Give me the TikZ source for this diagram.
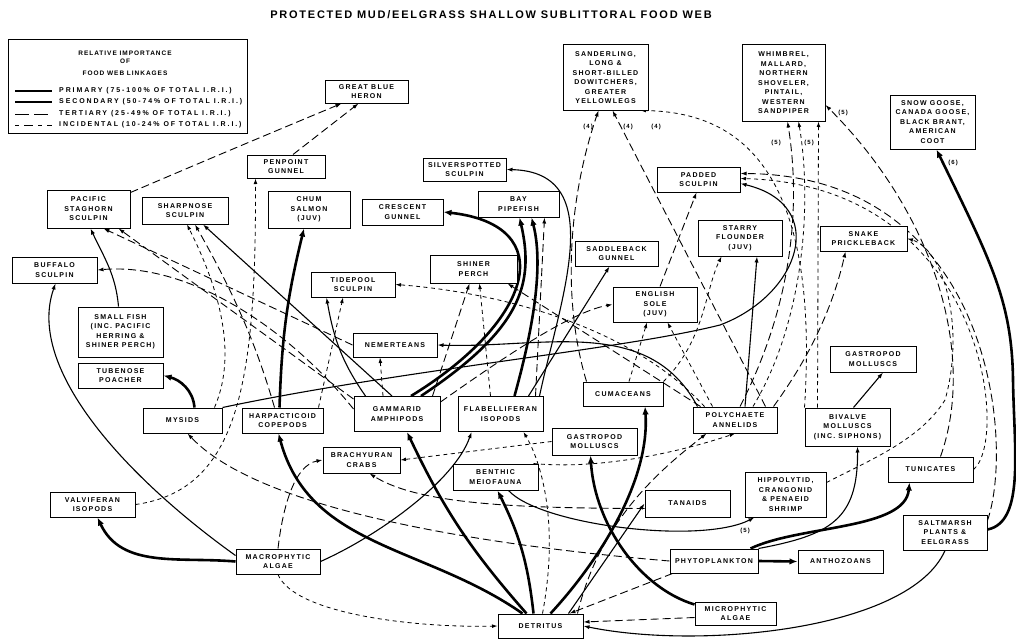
\documentclass[tikz,border=0pt]{standalone}
\usepackage{fontspec}
\setmainfont{Liberation Sans}
\newfontfamily\boxfont{Liberation Sans}[LetterSpace=18]
\newfontfamily\legfont{Liberation Sans}[LetterSpace=27]
\newfontfamily\hdfont{Liberation Sans}[LetterSpace=15]
\newfontfamily\ttlfont{Liberation Sans}[LetterSpace=16]
\usetikzlibrary{arrows.meta,calc,backgrounds}
\begin{document}
\begin{tikzpicture}[x=1pt,y=1pt,
  box/.style 2 args={draw, fill=white, line width=1pt, inner sep=1pt, align=center,
    minimum width=#1, minimum height=#2, font=\boxfont\bfseries\fontsize{7}{9.5}\selectfont},
  lbl/.style={font=\boxfont\bfseries\fontsize{6}{7}\selectfont, inner sep=0pt},
  hd/.style={font=\hdfont\bfseries\fontsize{6.5}{8}\selectfont, inner sep=0pt},
  lg/.style={font=\legfont\bfseries\fontsize{7}{8}\selectfont, inner sep=0pt, anchor=west},
  lkP/.style={line width=2.6pt, -{Latex[length=8pt,width=6.5pt]}},
  lkS/.style={line width=1.1pt, -{Latex[length=6pt,width=4.2pt]}},
  lkT/.style={line width=0.9pt, dash pattern=on 8pt off 4pt, -{Latex[length=6pt,width=4pt]}},
  lkI/.style={line width=0.8pt, dash pattern=on 4pt off 3.5pt, -{Latex[length=5.5pt,width=3.8pt]}},
]
\useasboundingbox (0,0) rectangle (1016,-642);

% title
\node[font=\ttlfont\bfseries\fontsize{11}{13}\selectfont, inner sep=0pt] (title) at (491,-15) {PROTECTED MUD/EELGRASS SHALLOW SUBLITTORAL FOOD WEB};

% legend
\node[draw, fill=white, line width=1pt, minimum width=239pt, minimum height=93pt, inner sep=0pt] (legend) at (127.5,-86.5) {};
\node[hd] (lh1) at (125,-53) {RELATIVE IMPORTANCE};
\node[hd] (lh2) at (125,-61) {OF};
\node[hd] (lh3) at (125,-73) {FOOD WEB LINKAGES};
\node[lg] (lg1) at (59,-91) {PRIMARY (75-100\% OF TOTAL I.R.I.)};
\node[lg] (lg2) at (59,-102) {SECONDARY (50-74\% OF TOTAL I.R.I.)};
\node[lg] (lg3) at (59,-114) {TERTIARY (25-49\% OF TOTAL I.R.I.)};
\node[lg] (lg4) at (59,-125) {INCIDENTAL (10-24\% OF TOTAL I.R.I.)};
\draw[line width=2.6pt] (15,-91) -- (52,-91);
\draw[line width=1.2pt] (15,-102) -- (52,-102);
\draw[line width=1pt, dash pattern=on 14pt off 5pt] (15,-114) -- (52,-114);
\draw[line width=0.9pt, dash pattern=on 4pt off 5pt on 9pt off 5pt] (15,-125) -- (52,-125);

% nodes
\node[box={83pt}{23pt}] (heron) at (366.5,-91.5) {GREAT BLUE\\HERON};
\node[box={78pt}{23pt}] (penpoint) at (286,-166.5) {PENPOINT\\GUNNEL};
\node[box={83pt}{23pt}] (silver) at (464.5,-169.5) {SILVERSPOTTED\\SCULPIN};
\node[box={83pt}{38pt}] (staghorn) at (88.5,-209) {PACIFIC\\STAGHORN\\SCULPIN};
\node[box={86pt}{27pt}] (sharpnose) at (185,-210.5) {SHARPNOSE\\SCULPIN};
\node[box={82pt}{37pt}] (chum) at (309,-209.5) {CHUM\\SALMON\\(JUV)};
\node[box={81pt}{26pt}] (crescent) at (402.5,-212) {CRESCENT\\GUNNEL};
\node[box={81pt}{26pt}] (pipefish) at (518.5,-204) {BAY\\PIPEFISH};
\node[box={85pt}{65pt}] (sanderling) at (605.5,-77.5) {SANDERLING,\\LONG \&\\SHORT-BILLED\\DOWITCHERS,\\GREATER\\YELLOWLEGS};
\node[box={83pt}{76pt}] (whimbrel) at (783.5,-83) {WHIMBREL,\\MALLARD,\\NORTHERN\\SHOVELER,\\PINTAIL,\\WESTERN\\SANDPIPER};
\node[box={85pt}{54pt}] (snowgoose) at (932.5,-122) {SNOW GOOSE,\\CANADA GOOSE,\\BLACK BRANT,\\AMERICAN\\COOT};
\node[box={83pt}{25pt}] (padded) at (698.5,-179.5) {PADDED\\SCULPIN};
\node[box={84pt}{36pt}] (starry) at (740,-238) {STARRY\\FLOUNDER\\(JUV)};
\node[box={87pt}{25pt}] (snake) at (863.5,-238.5) {SNAKE\\PRICKLEBACK};
\node[box={85pt}{26pt}] (buffalo) at (54.5,-270) {BUFFALO\\SCULPIN};
\node[box={84pt}{25pt}] (tidepool) at (353,-284.5) {TIDEPOOL\\SCULPIN};
\node[box={87pt}{28pt}] (shiner) at (473.5,-269) {SHINER\\PERCH};
\node[box={83pt}{25pt}] (saddleback) at (616.5,-253.5) {SADDLEBACK\\GUNNEL};
\node[box={84pt}{35pt}] (english) at (655,-304.5) {ENGLISH\\SOLE\\(JUV)};
\node[box={85pt}{50pt}] (smallfish) at (120.5,-332) {SMALL FISH\\(INC. PACIFIC\\HERRING \&\\SHINER PERCH)};
\node[box={84pt}{24pt}] (nemerteans) at (395,-345) {NEMERTEANS};
\node[box={85pt}{25pt}] (tubenose) at (120.5,-375.5) {TUBENOSE\\POACHER};
\node[box={86pt}{26pt}] (gastroup) at (873,-359) {GASTROPOD\\MOLLUSCS};
\node[box={79pt}{25pt}] (mysids) at (182.5,-420.5) {MYSIDS};
\node[box={81pt}{25pt}] (harpact) at (282.5,-420.5) {HARPACTICOID\\COPEPODS};
\node[box={86pt}{35pt}] (gammarid) at (397,-414) {GAMMARID\\AMPHIPODS};
\node[box={85pt}{35pt}] (flabel) at (500.5,-414) {FLABELLIFERAN\\ISOPODS};
\node[box={80pt}{24pt}] (cumaceans) at (623,-394) {CUMACEANS};
\node[box={84pt}{26pt}] (polychaete) at (735,-420) {POLYCHAETE\\ANNELIDS};
\node[box={85pt}{38pt}] (bivalve) at (847.5,-427) {BIVALVE\\MOLLUSCS\\(INC. SIPHONS)};
\node[box={77pt}{26pt}] (brachy) at (361.5,-460) {BRACHYURAN\\CRABS};
\node[box={85pt}{27pt}] (gastrolow) at (594.5,-441.5) {GASTROPOD\\MOLLUSCS};
\node[box={85pt}{26pt}] (meio) at (495.5,-477) {BENTHIC\\MEIOFAUNA};
\node[box={85pt}{27pt}] (tanaids) at (687.5,-503.5) {TANAIDS};
\node[box={81pt}{45pt}] (hippo) at (785.5,-494.5) {HIPPOLYTID,\\CRANGONID\\\& PENAEID\\SHRIMP};
\node[box={85pt}{25pt}] (tunicates) at (930.5,-469.5) {TUNICATES};
\node[box={85pt}{25pt}] (valvifer) at (92.5,-504.5) {VALVIFERAN\\ISOPODS};
\node[box={84pt}{35pt}] (saltmarsh) at (945,-532.5) {SALTMARSH\\PLANTS \&\\EELGRASS};
\node[box={84pt}{25pt}] (macro) at (278,-561.5) {MACROPHYTIC\\ALGAE};
\node[box={88pt}{24pt}] (phyto) at (714,-561) {PHYTOPLANKTON};
\node[box={85pt}{23pt}] (antho) at (840.5,-561.5) {ANTHOZOANS};
\node[box={85pt}{24pt}] (detritus) at (540.5,-626) {DETRITUS};
\node[box={81pt}{23pt}] (micro) at (735.5,-613.5) {MICROPHYTIC\\ALGAE};

\coordinate (rc) at (1013,-380);
\coordinate (mc) at (720,-325);
\coordinate (hc) at (945,-400);

% labels
\node[lbl] (l4a) at (588,-127) {(4)};
\node[lbl] (l4b) at (628,-127) {(4)};
\node[lbl] (l4c) at (656,-127) {(4)};
\node[lbl] (l5a) at (776,-143) {(5)};
\node[lbl] (l5b) at (809,-143) {(5)};
\node[lbl] (l5c) at (843,-113) {(5)};
\node[lbl] (l6) at (953,-163) {(6)};
\node[lbl] (l5d) at (745,-531) {(5)};

\begin{scope}[on background layer]
\fill[white] (0,0) rectangle (1016,-642);
% primary
\draw[lkP] (macro.west) to[out=175,in=-65] ($(valvifer.south)+(5,0)$);
\draw[lkP] ($(detritus.north west)+(25,0)$) to[out=145,in=-75] ($(harpact.south)+(-4,0)$);
\draw[lkP] ($(harpact.north)+(-3,0)$) to[bend left=6] ($(chum.south)+(-5,0)$);
\draw[lkP] ($(mysids.north)+(12,0)$) to[out=95,in=-15] (tubenose.east);
\draw[lkP] ($(gammarid.north)+(14,0)$) .. controls (535,-320) and (560,-225) .. (crescent.east);
\draw[lkP] ($(gammarid.north)+(24,0)$) .. controls (520,-330) and (535,-285) .. ($(pipefish.south)+(1,0)$);
\draw[lkP] ($(flabel.north)+(14,0)$) .. controls (530,-340) and (545,-270) .. ($(pipefish.south)+(13,0)$);
\draw[lkP] ($(detritus.north)+(-14,0)$) to[bend left=8] ($(gammarid.south)+(10,0)$);
\draw[lkP] ($(detritus.north)+(-7,0)$) to[bend right=10] ($(meio.south)+(2,0)$);
\draw[lkP] ($(detritus.north)+(10,0)$) .. controls (600,-560) and (650,-480) .. ($(cumaceans.south)+(22,0)$);
\draw[lkP] ($(micro.north west)+(0,-3)$) .. controls (640,-588) and (595,-525) .. ($(gastrolow.south)+(-4,0)$);
\draw[lkP] ($(phyto.north east)+(-8,0)$) .. controls (800,-525) and (905,-530) .. ($(tunicates.south)+(-21,0)$);
\draw[lkP] (phyto.east) -- (antho.west);
\draw[lkP] ($(saltmarsh.east)+(0,3)$) .. controls (1025,-522) and (1014,-450) .. (rc) .. controls (1012,-300) and (990,-260) .. ($(snowgoose.south)+(4,0)$);
% secondary
\draw[lkS] ($(macro.west)+(0,6)$) .. controls (130,-480) and (25,-370) .. ($(buffalo.south)+(1,0)$);
\draw[lkS] ($(smallfish.north)+(-2,0)$) to[out=95,in=-65] ($(staghorn.south)+(2,0)$);
\draw[lkS] ($(gammarid.north)+(-5,0)$) -- ($(sharpnose.south)+(18,0)$);
\draw[lkS] ($(gammarid.north west)+(12,0)$) to[out=125,in=-80] ($(tidepool.south west)+(16,0)$);
\draw[lkS] ($(flabel.north)+(28,0)$) -- ($(saddleback.south)+(-7,0)$);
\draw[lkS] ($(polychaete.north west)+(5,0)$) to[out=118,in=-2] (nemerteans.east);
\draw[lkS] (mysids.north east) .. controls (400,-370) and (620,-350) .. (mc) .. controls (800,-295) and (830,-205) .. ($(padded.east)+(0,-4)$);
\draw[lkS] ($(polychaete.north)+(10,0)$) -- ($(starry.south)+(17,0)$);
\draw[lkS] ($(flabel.north east)+(-4,0)$) .. controls (560,-300) and (610,-172) .. (silver.east);
\draw[lkS] ($(detritus.north east)+(-15,0)$) -- (tanaids.west);
\draw[lkS] ($(meio.south east)+(-30,0)$) .. controls (540,-525) and (700,-545) .. ($(hippo.south west)+(10,0)$);
\draw[lkS] (phyto.north east) .. controls (830,-535) and (858,-520) .. ($(bivalve.south)+(10,0)$);
\draw[lkS] (saltmarsh.south) .. controls (910,-630) and (700,-650) .. (detritus.east);
\draw[lkS] (macro.east) .. controls (380,-535) and (455,-480) .. ($(flabel.south west)+(14,0)$);
\draw[lkS] ($(bivalve.north)+(6,0)$) -- ($(gastroup.south)+(10,0)$);
% tertiary and incidental
\draw[lkT] ($(staghorn.north east)+(0,-3)$) .. controls (230,-150) and (290,-125) .. ($(heron.south west)+(17,0)$);
\draw[lkT] ($(penpoint.north)+(7,0)$) -- ($(heron.south)+(-8,0)$);
\draw[lkI] (valvifer.east) .. controls (240,-490) and (256,-380) .. ($(penpoint.south west)+(9,0)$);
\draw[lkT] ($(harpact.north)+(-8,0)$) .. controls (255,-340) and (232,-290) .. ($(sharpnose.south)+(10,0)$);
\draw[lkI] ($(mysids.north east)+(-8,0)$) .. controls (235,-360) and (225,-300) .. ($(sharpnose.south)+(2,0)$);
\draw[lkT] (nemerteans.west) -- ($(staghorn.south)+(15,0)$);
\draw[lkT] ($(gammarid.north west)+(0,-3)$) -- ($(staghorn.south east)+(-12,0)$);
\draw[lkT] ($(gammarid.west)+(0,5)$) .. controls (290,-330) and (190,-262) .. (buffalo.east);
\draw[lkI] ($(harpact.north east)+(-5,0)$) -- ($(tidepool.south)+(-10,0)$);
\draw[lkI] ($(gammarid.north)+(-14,0)$) -- ($(nemerteans.south)+(-15,0)$);
\draw[lkT] ($(gammarid.north east)+(-8,0)$) -- ($(shiner.south)+(-4,0)$);
\draw[lkI] ($(flabel.north)+(-10,0)$) -- ($(shiner.south)+(6,0)$);
\draw[lkT] ($(polychaete.north west)+(8,0)$) -- ($(shiner.south east)+(-10,0)$);
\draw[lkI] ($(polychaete.north west)+(12,0)$) .. controls (620,-315) and (470,-290) .. (tidepool.east);
\draw[lkT] ($(gammarid.north east)+(0,-6)$) .. controls (500,-360) and (570,-312) .. (english.west);
\draw[lkI] ($(cumaceans.north)+(6,0)$) -- ($(english.south)+(-8,0)$);
\draw[lkI] ($(polychaete.north west)+(20,0)$) -- ($(english.south east)+(-30,0)$);
\draw[lkT] ($(flabel.north east)+(-8,0)$) -- ($(pipefish.south east)+(-15,0)$);
\draw[lkT] ($(cumaceans.north west)+(4,0)$) .. controls (562,-300) and (568,-200) .. ($(sanderling.south)+(-7,0)$);
\draw[lkT] ($(polychaete.north east)+(-12,0)$) -- ($(sanderling.south)+(7,0)$);
\draw[lkI] (bivalve.north west) .. controls (820,-170) and (740,-112) .. ($(sanderling.south east)+(-8,0)$);
\draw[lkT] ($(polychaete.north)+(5,0)$) .. controls (795,-300) and (800,-200) .. ($(whimbrel.south)+(4,0)$);
\draw[lkI] ($(polychaete.north)+(18,0)$) .. controls (805,-320) and (812,-200) .. ($(whimbrel.south)+(15,0)$);
\draw[lkI] ($(bivalve.north west)+(13,0)$) -- ($(whimbrel.south east)+(-7,0)$);
\draw[lkT] ($(tunicates.north)+(10,0)$) .. controls (975,-360) and (940,-220) .. ($(whimbrel.east)+(0,-22)$);
\draw[lkT] ($(saltmarsh.north east)+(0,-6)$) .. controls (1015,-440) and (990,-175) .. ($(padded.east)+(0,6)$);
\draw[lkI] (tunicates.east) .. controls (1010,-440) and (985,-185) .. ($(padded.east)+(0,1)$);
\draw[lkI] ($(hippo.east)+(0,12)$) .. controls (870,-460) and (920,-440) .. (hc) .. controls (965,-330) and (945,-250) .. (snake.east);
\draw[lkT] ($(english.north)+(5,0)$) -- ($(padded.south)+(-2,0)$);
\draw[lkI] (cumaceans.north east) .. controls (705,-340) and (705,-290) .. ($(starry.south west)+(24,0)$);
\draw[lkT] ($(polychaete.north east)+(-4,0)$) .. controls (800,-370) and (830,-320) .. ($(snake.south)+(-18,0)$);
% bottom
\draw[lkI] (macro.south) .. controls (295,-615) and (420,-628) .. (detritus.west);
\draw[lkT] (macro.north) .. controls (283,-505) and (295,-465) .. (brachy.west);
\draw[lkT] (phyto.west) .. controls (480,-545) and (260,-510) .. ($(mysids.south east)+(-35,0)$);
\draw[lkT] ($(phyto.south west)+(3,0)$) -- ($(detritus.north east)+(-14,0)$);
\draw[lkT] ($(micro.west)+(0,-4)$) -- ($(detritus.east)+(0,4)$);
\draw[lkT] ($(tanaids.west)+(0,-5)$) .. controls (520,-508) and (420,-505) .. ($(brachy.south)+(8,0)$);
\draw[lkI] (gastrolow.west) -- (brachy.east);
\draw[lkT] ($(detritus.north east)+(-6,0)$) .. controls (600,-520) and (660,-470) .. ($(polychaete.south west)+(14,0)$);
\draw[lkI] ($(meio.north east)+(-5,0)$) .. controls (600,-470) and (680,-452) .. (polychaete.south);
\draw[lkI] ($(detritus.north)+(2,0)$) .. controls (560,-520) and (540,-460) .. ($(flabel.south east)+(-20,0)$);
\end{scope}
\end{tikzpicture}
\end{document}
